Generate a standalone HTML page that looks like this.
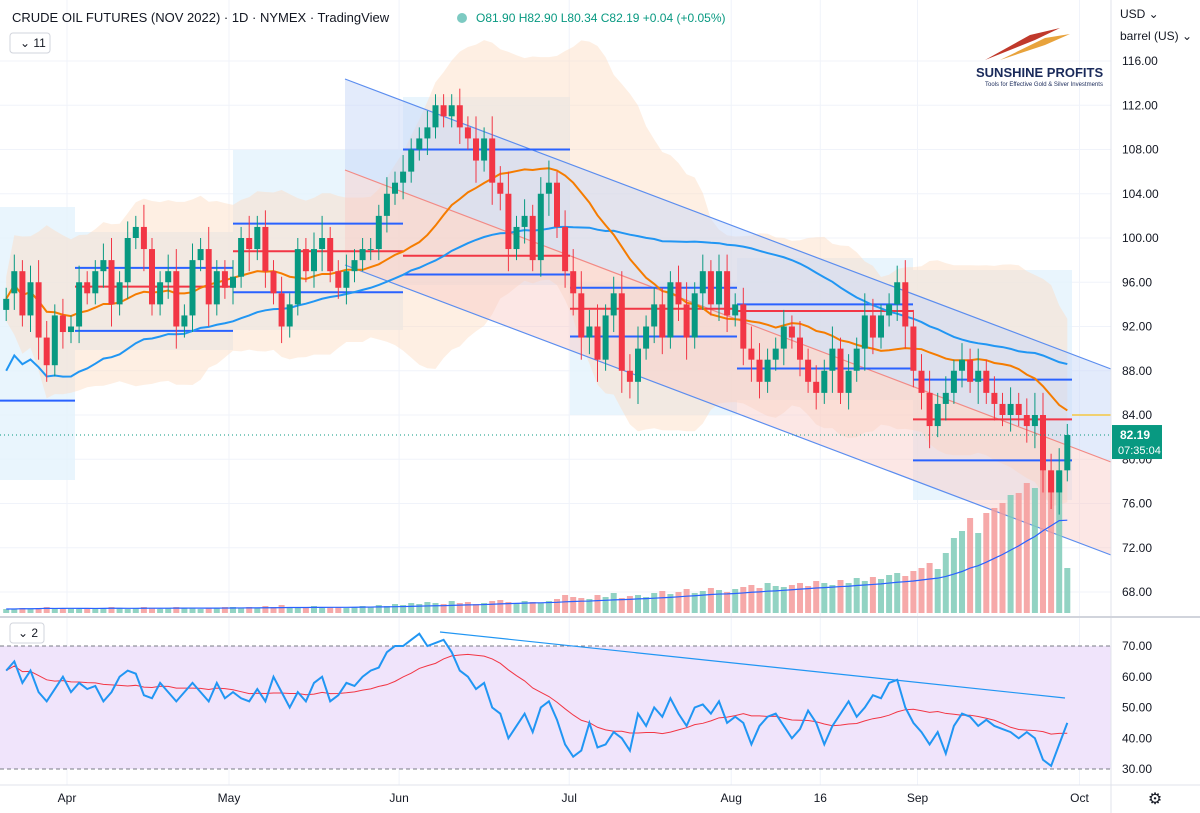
<!DOCTYPE html>
<html><head><meta charset="utf-8"><style>
html,body{margin:0;padding:0;background:#fff;}
svg{display:block;font-family:"Liberation Sans",sans-serif;}
</style></head><body>
<svg id="chart" width="1200" height="813" viewBox="0 0 1200 813" xmlns="http://www.w3.org/2000/svg">
<rect x="0" y="0" width="1200" height="813" fill="#fff"/>
<g id="grid"></g>
<g id="profiles0"></g>
<g id="bands"></g>
<g id="channel"></g>
<g id="profiles"></g>
<g id="volume"></g>
<g id="mas"></g>
<g id="candles"></g>
<g id="rsi"></g>
<g id="axes"></g>
<text x="12" y="22" font-size="13" fill="#131722">CRUDE OIL FUTURES (NOV 2022) · 1D · NYMEX · TradingView</text>
<circle cx="462" cy="18" r="5" fill="#26a69a" opacity="0.6"/>
<text x="476" y="22" font-size="12" fill="#089981">O81.90 H82.90 L80.34 C82.19 +0.04 (+0.05%)</text>
<rect x="10" y="33" width="40" height="20" rx="3" fill="#fff" stroke="#d1d4dc"/>
<text x="20" y="47" font-size="12" fill="#131722">⌄ 11</text>
<rect x="10" y="623" width="34" height="20" rx="3" fill="#fff" stroke="#d1d4dc"/>
<text x="18" y="637" font-size="12" fill="#131722">⌄ 2</text>
<text x="1120" y="18" font-size="12" fill="#131722">USD ⌄</text>
<text x="1120" y="40" font-size="12" fill="#131722">barrel (US) ⌄</text>
<g>
<path d="M985 60 L1030 35 L1060 28 L1035 40 Z" fill="#c0392b"/>
<path d="M1000 60 L1045 38 L1070 34 L1045 45 Z" fill="#e8a33c"/>
<text x="976" y="77" font-size="13" font-weight="bold" fill="#1a2a5a">SUNSHINE PROFITS</text>
<text x="985" y="86" font-size="6" fill="#1a2a5a">Tools for Effective Gold &amp; Silver Investments</text>
</g>
</svg>
<script>
const closes=[94.5,97,93,96,91,88.5,93,91.5,
92,96,95,97,98,94,96,100,101,99,94,96,97,92,93,98,99,94,97,95.5,
96.5,100,99,101,97,95,92,94,99,97,99,100,97,95.5,97,98,99,99,102,104,105,
106,108,109,110,112,111,112,110,109,107,109,105,104,99,101,102,98,104,105,101,97,
95,91,92,89,93,95,88,87,90,92,94,91,96,94,91,95,97,94,97,93,
94,90,89,87,89,90,92,91,89,87,86,88,90,86,88,90,93,91,93,94,96,92,88,
86,83,85,86,88,89,87,88,86,85,84,85,84,83,84,79,77,79,82.19];
const opens=[93.5,95,97,93,96,91,88.5,93,
91.5,92,96,95,97,98,94,96,100,101,99,94,96,97,92,93,98,99,94,97,
95.5,96.5,100,99,101,97,95,92,94,99,97,99,100,97,95.5,97,98,99,99,102,104,
105,106,108,109,110,112,111,112,110,109,107,109,105,104,99,101,102,98,104,105,101,
97,95,91,92,89,93,95,88,87,90,92,94,91,96,94,91,95,97,94,97,
93,94,90,89,87,89,90,92,91,89,87,86,88,90,86,88,90,93,91,93,94,96,92,
88,86,83,85,86,88,89,87,88,86,85,84,85,84,83,84,79,77,79];
const wicks=[1,1.5,1,1.5,2,1.5,1,1.5,1,1.5,1,1,1.5,2,1,1.5,1,2,1,1,1.5,2,1,1.5,1,2,1,1,
1.5,1,2,1,1.5,1,1.5,1,1,1,1.5,2,1,1,1.5,1,1,1,1,1.5,1,
1.5,1,1,1.5,1,1,1,1.5,1,2,1,2,1.5,2,1,1.5,1,1.5,2,1,1.5,
2,2,1.5,2,1,1.5,2,1.5,2,1,1.5,1.5,1,1.5,2,1,1.5,1,1.5,1.5,
1,1.5,2,1.5,1,1,1.5,1,1.5,1,1.5,1,2,1,1.5,1,2,1.5,1,1,1.5,2,1.5,
1.5,2,1,1.5,1,1.5,1,2,1,1.5,1,1.5,1,1.5,2,2,1.5,2,1];
const rsiVals=[62,65,58,62,55,52,56,60,
55,58,56,57,52,55,60,62,61,54,53,58,55,52,55,58,55,52,58,53,
55,53,52,56,52,60,55,50,55,52,58,60,52,54,58,57,60,62,63,68,70,
70,72,74,70,71,72,68,62,60,56,58,50,48,40,44,48,42,50,52,46,38,
34,36,45,37,38,42,40,36,48,44,50,47,53,48,44,50,51,48,52,45,
47,45,38,44,47,48,44,40,43,49,45,38,44,48,52,47,50,54,53,58,59,50,45,
42,38,42,35,44,48,47,44,46,44,43,42,40,42,40,33,31,38,45];
const volumes=[4,4,5,4,5,6,4,5,
5,4,5,4,5,6,5,4,5,6,5,4,5,6,5,5,4,5,5,6,
6,5,6,5,7,6,8,6,5,6,7,5,6,6,5,6,7,6,8,7,9,
8,10,9,11,10,9,12,10,11,9,10,12,13,11,10,12,11,10,12,14,18,
16,15,14,18,16,20,15,17,18,16,20,22,19,21,24,20,22,25,23,21,
24,26,28,25,30,27,26,28,30,27,32,30,28,33,30,35,32,36,34,38,40,37,42,
45,50,44,60,75,82,95,80,100,105,110,118,120,130,125,148,140,142,45];
const priceTicks=[116,112,108,104,100,96,92,88,84,80,76,72,68];
const rsiTicks=[70,60,50,40,30];
const monthLabels=["Apr","May","Jun","Jul","Aug","16","Sep","Oct"];
const monthIdx=[8,28,49,70,90,101,113,133];

const NS="http://www.w3.org/2000/svg";
const xOf=i=>71+(i-8)*8.1;
const yP=p=>61+(116-p)*11.0625;
const yR=r=>646+(70-r)*3.075;
const yV=v=>613-v*1.0;
function mk(tag,attrs,parent){const e=document.createElementNS(NS,tag);for(const k in attrs)e.setAttribute(k,attrs[k]);document.getElementById(parent).appendChild(e);return e;}
function sma(a,n,i){let s=0,c=0;for(let j=Math.max(0,i-n+1);j<=i;j++){s+=a[j];c++;}return s/c;}

priceTicks.forEach(p=>{const l=mk('line',{x1:0,x2:1111,y1:yP(p),y2:yP(p),stroke:'#f0f3fa'},'grid');});
monthIdx.forEach(i=>{const l=mk('line',{x1:xOf(i)-4,x2:xOf(i)-4,y1:0,y2:785,stroke:'#f0f3fa'},'grid');});

const regions=[[0,75,207,480],[75,233,232,350],[233,403,150,330],[403,570,97,285],[570,737,283,415],[737,913,258,400],[913,1072,270,500]];
regions.forEach(r=>{const e=mk('rect',{x:r[0],y:r[2],width:r[1]-r[0],height:r[3]-r[2],fill:'#e3f2fd',opacity:'0.8'},'profiles0');});

let up=[],lo=[];
closes.forEach((c,i)=>{const m=sma(closes,20,i);let v=0,n=0;for(let j=Math.max(0,i-19);j<=i;j++){v+=(closes[j]-m)**2;n++;}const sd=Math.sqrt(v/n)+1.0;up.push([xOf(i),yP(m+2*sd)]);lo.push([xOf(i),yP(m-2*sd)]);});
const cloud=mk('polygon',{points:up.concat(lo.slice().reverse()).map(p=>p.join(',')).join(' '),fill:'#fcdcc2',opacity:'0.45'},'bands');


const ch1=mk('polygon',{points:'345,79 1111,369 1111,462 345,170',fill:'#c8d8f8',opacity:'0.5'},'channel');
const ch2=mk('polygon',{points:'345,170 1111,462 1111,555 345,265',fill:'#f9c9c6',opacity:'0.45'},'channel');
[['345,79','1111,369','#5b8def','channel-upper-line'],['345,170','1111,462','#f28a85','channel-mid-line'],['345,265','1111,555','#5b8def','channel-lower-line']].forEach(l=>{const a=l[0].split(','),b=l[1].split(',');const e=mk('line',{x1:a[0],y1:a[1],x2:b[0],y2:b[1],stroke:l[2],'stroke-width':1.2},'channel');});

const levels=[[0,75,85.3,'#2962ff'],[75,233,97.3,'#2962ff'],[75,233,95.6,'#f23645'],[75,233,91.6,'#2962ff'],[233,403,101.3,'#2962ff'],[233,403,98.8,'#f23645'],[233,403,95.1,'#2962ff'],[403,570,108,'#2962ff'],[403,570,98.4,'#f23645'],[403,570,96.7,'#2962ff'],[570,737,95.5,'#2962ff'],[570,737,93.6,'#f23645'],[570,737,91.1,'#2962ff'],[737,913,94,'#2962ff'],[737,913,93.4,'#f23645'],[737,913,88.2,'#2962ff'],[913,1072,87.2,'#2962ff'],[913,1072,83.6,'#f23645'],[913,1072,79.9,'#2962ff']];
levels.forEach(l=>{const e=mk('line',{x1:l[0],x2:l[1],y1:yP(l[2]),y2:yP(l[2]),stroke:l[3],'stroke-width':2},'profiles');});
const yl=mk('line',{x1:1072,x2:1111,y1:yP(84),y2:yP(84),stroke:'#f5c842','stroke-width':1.5},'profiles');

volumes.forEach((v,i)=>{const g=closes[i]>=opens[i];const e=mk('rect',{x:xOf(i)-3,y:yV(v),width:6,height:613-yV(v),fill:g?'#7fcbb8':'#f49a9a',opacity:'0.85'},'volume');});
const vma=volumes.map((v,i)=>xOf(i)+','+yV(sma(volumes,20,i))).join(' ');
const vl=mk('polyline',{points:vma,fill:'none',stroke:'#2962ff','stroke-width':1.2},'volume');

const m20=closes.map((c,i)=>xOf(i)+','+yP(sma(closes,20,i))).join(' ');
const m50=closes.map((c,i)=>xOf(i)+','+yP(sma(closes,50,i)-(i<50?(50-i)*0.13:0))).join(' ');
const l1=mk('polyline',{points:m50,fill:'none',stroke:'#2196f3','stroke-width':2},'mas');
const l2=mk('polyline',{points:m20,fill:'none',stroke:'#f57c00','stroke-width':2},'mas');

closes.forEach((c,i)=>{const o=opens[i],g=c>=o,col=g?'#089981':'#f23645',x=xOf(i);const hi=Math.max(o,c)+wicks[i],lw=Math.min(o,c)-wicks[i];
const w=mk('line',{x1:x,x2:x,y1:yP(hi),y2:yP(lw),stroke:col,'stroke-width':1},'candles');
const b=mk('rect',{x:x-3,y:yP(Math.max(o,c)),width:6,height:Math.max(1,Math.abs(yP(o)-yP(c))),fill:col},'candles');});
const cp=mk('line',{x1:0,x2:1111,y1:yP(82.19),y2:yP(82.19),stroke:'#089981','stroke-dasharray':'1,3'},'candles');

const rb=mk('rect',{x:0,y:yR(70),width:1111,height:yR(30)-yR(70),fill:'#f0e4fb'},'rsi');
[70,30].forEach(r=>{const e=mk('line',{x1:0,x2:1111,y1:yR(r),y2:yR(r),stroke:'#787b86','stroke-dasharray':'4,3'},'rsi');});
const rma=rsiVals.map((r,i)=>xOf(i)+','+yR(sma(rsiVals,14,i))).join(' ');
const r1=mk('polyline',{points:rma,fill:'none',stroke:'#f23645','stroke-width':1},'rsi');
const rl=rsiVals.map((r,i)=>xOf(i)+','+yR(r)).join(' ');
const r2=mk('polyline',{points:rl,fill:'none',stroke:'#2196f3','stroke-width':2},'rsi');
const tl=mk('line',{x1:440,y1:632,x2:1065,y2:698,stroke:'#2196f3','stroke-width':1.2},'rsi');

[['line',{x1:1111,x2:1111,y1:0,y2:813,stroke:'#e0e3eb'}],['line',{x1:0,x2:1200,y1:617,y2:617,stroke:'#d1d4dc','stroke-width':2}],['line',{x1:0,x2:1200,y1:785,y2:785,stroke:'#e0e3eb'}]].forEach(a=>{const e=mk(a[0],a[1],'axes');});
priceTicks.forEach(p=>{const t=mk('text',{x:1122,y:yP(p)+4,'font-size':12,fill:'#131722'},'axes');t.textContent=p.toFixed(2);});
rsiTicks.forEach(r=>{const t=mk('text',{x:1122,y:yR(r)+4,'font-size':12,fill:'#131722'},'axes');t.textContent=r.toFixed(2);});
monthLabels.forEach((m,k)=>{const t=mk('text',{x:xOf(monthIdx[k])-4,y:802,'font-size':12,fill:'#131722','text-anchor':'middle'},'axes');t.textContent=m;});
const pb=mk('rect',{x:1112,y:yP(82.19)-10,width:50,height:34,fill:'#089981'},'axes');
const pt=mk('text',{x:1120,y:yP(82.19)+4,'font-size':12,fill:'#fff','font-weight':'bold'},'axes');pt.textContent='82.19';
const ct=mk('text',{x:1118,y:yP(82.19)+19,'font-size':11,fill:'#fff'},'axes');ct.textContent='07:35:04';
const gear=mk('text',{x:1155,y:804,'font-size':16,fill:'#131722','text-anchor':'middle'},'axes');gear.textContent='⚙';
</script>
</body></html>
